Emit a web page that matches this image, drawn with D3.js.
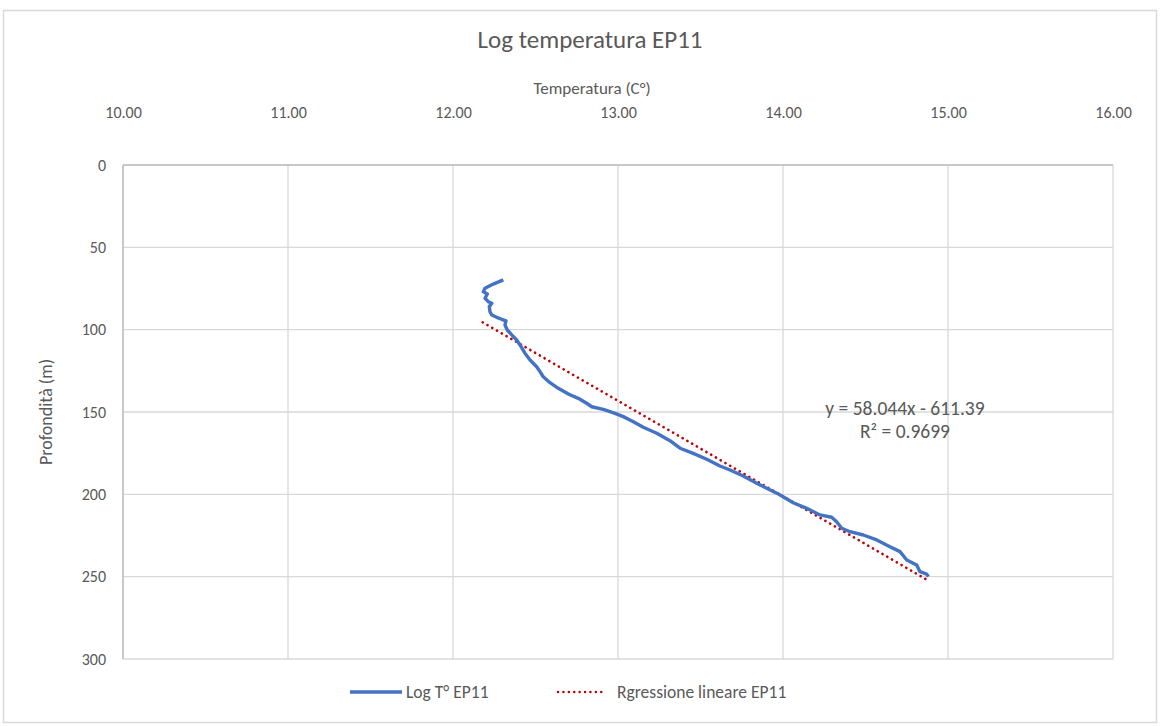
<!DOCTYPE html>
<html><head><meta charset="utf-8">
<script src="https://cdn.jsdelivr.net/npm/d3@7"></script>
<style>
body{margin:0;background:#fff;}
text{font-family:Carlito,Calibri,Lato,"Open Sans",sans-serif;fill:#595959;}
</style></head>
<body><svg id="c" width="1160" height="726"></svg>
<script>
const xTicks = [10,11,12,13,14,15,16];
const yTicks = [0,50,100,150,200,250,300];
const temperature = [12.305,12.244,12.194,12.184,12.208,12.194,12.214,12.235,12.220,12.224,12.235,12.265,12.295,12.321,12.315,12.329,12.356,12.386,12.406,12.436,12.467,12.507,12.527,12.547,12.588,12.638,12.699,12.759,12.810,12.841,12.911,12.982,13.032,13.093,13.153,13.235,13.315,13.376,13.456,13.538,13.618,13.679,13.759,13.841,13.901,13.972,14.062,14.144,14.224,14.295,14.325,14.356,14.406,14.487,14.568,14.648,14.709,14.750,14.810,14.830,14.871,14.881];
const depth = [69.8,72.3,74.9,77.0,78.3,80.9,83.0,84.0,86.0,89.1,91.1,92.5,93.7,94.6,97.2,100.2,103.2,106.3,109.3,114.3,118.4,122.5,125.5,128.6,132.2,135.6,139.1,141.7,144.7,146.8,148.4,150.8,152.8,155.9,159.3,162.9,167.4,172.0,175.1,178.7,182.8,185.2,188.9,193.3,196.3,199.8,205.1,208.5,212.5,213.9,216.6,220.6,222.7,224.7,227.7,231.8,234.8,239.9,242.9,247.0,248.4,250.0];
const slope = 58.044, intercept = -611.39;
const regX = [12.18, 14.88];
const seriesNames = ["Log T° EP11", "Rgressione lineare EP11"];
const eqText = ["y = 58.044x - 611.39", "R² = 0.9699"];

const svg = d3.select("#c");
const L=123, R=1113, T=165, B=659;
const x = d3.scaleLinear().domain([10,16]).range([L,R]);
const y = d3.scaleLinear().domain([0,300]).range([T,B]);

// outer border
svg.append("rect").attr("x",3.5).attr("y",10.5).attr("width",1153).attr("height",712)
  .attr("fill","none").attr("stroke","#d9d9d9").attr("stroke-width",1.5);

// gridlines
const g = svg.append("g");
g.selectAll(".vx").data(xTicks).join("line")
  .attr("x1",d=>x(d)).attr("x2",d=>x(d)).attr("y1",T).attr("y2",B)
  .attr("stroke","#d9d9d9").attr("stroke-width",1.3);
g.selectAll(".hy").data(yTicks).join("line")
  .attr("x1",L).attr("x2",R).attr("y1",d=>y(d)).attr("y2",d=>y(d))
  .attr("stroke","#d9d9d9").attr("stroke-width",1.3);
// axis lines
g.append("line").attr("x1",L).attr("x2",R).attr("y1",T).attr("y2",T).attr("stroke","#bfbfbf").attr("stroke-width",1.5);
g.append("line").attr("x1",L).attr("x2",L).attr("y1",T).attr("y2",B).attr("stroke","#bfbfbf").attr("stroke-width",1.5);

const tickFont = 16;
// top axis labels
const xAxis = d3.axisTop(x).tickValues(xTicks).tickFormat(d3.format(".2f")).tickSize(0).tickPadding(0);
const xa = svg.append("g").attr("transform",`translate(0,112)`).call(xAxis);
xa.select(".domain").remove();
xa.selectAll("text").attr("font-size",tickFont).attr("dy","0.35em").style("fill","#595959").attr("font-family","Carlito,Calibri,Lato,sans-serif");

// left axis labels
const yAxis = d3.axisLeft(y).tickValues(yTicks).tickSize(0).tickPadding(0);
const ya = svg.append("g").attr("transform",`translate(106,0)`).call(yAxis);
ya.select(".domain").remove();
ya.selectAll("text").attr("font-size",tickFont).style("fill","#595959").attr("font-family","Carlito,Calibri,Lato,sans-serif");

// regression
svg.append("line")
  .attr("x1",x(regX[0])).attr("y1",y(slope*regX[0]+intercept))
  .attr("x2",x(regX[1])).attr("y2",y(slope*regX[1]+intercept))
  .attr("stroke","#C00000").attr("stroke-width",2.6).attr("stroke-linecap","round")
  .attr("stroke-dasharray","0.1 5.4");

// data line
const pts = temperature.map((t,i)=>[t,depth[i]]);
svg.append("path").datum(pts)
  .attr("d",d3.line().x(d=>x(d[0])).y(d=>y(d[1])))
  .attr("fill","none").attr("stroke","#4472C4").attr("stroke-width",3.4).attr("stroke-linejoin","round");

// titles
svg.append("text").attr("x",590).attr("y",48).attr("text-anchor","middle").attr("font-size",25).text("Log temperatura EP11");
svg.append("text").attr("x",592).attr("y",94).attr("text-anchor","middle").attr("font-size",17).text("Temperatura (C°)");
svg.append("text").attr("transform","translate(52,412) rotate(-90)").attr("text-anchor","middle").attr("font-size",18).text("Profondità (m)");

// equation
svg.append("text").attr("x",905).attr("y",415).attr("text-anchor","middle").attr("font-size",19.5).text(eqText[0]);
svg.append("text").attr("x",905).attr("y",438).attr("text-anchor","middle").attr("font-size",19.5).text(eqText[1]);

// legend
const lg = svg.append("g");
lg.append("line").attr("x1",350).attr("x2",402).attr("y1",692).attr("y2",692).attr("stroke","#4472C4").attr("stroke-width",3.4);
lg.append("text").attr("x",406).attr("y",698).attr("font-size",17.5).text(seriesNames[0]);
lg.append("line").attr("x1",558).attr("x2",606).attr("y1",692).attr("y2",692).attr("stroke","#C00000").attr("stroke-width",2.4).attr("stroke-linecap","round").attr("stroke-dasharray","0.1 5.3");
lg.append("text").attr("x",617).attr("y",698).attr("font-size",17.5).text(seriesNames[1]);
</script></body></html>
